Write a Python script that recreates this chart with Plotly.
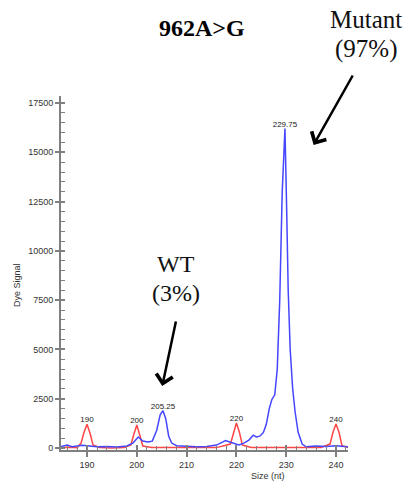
import plotly.graph_objects as go

# Capillary electrophoresis trace: size standard (red) and sample (blue)
red_size = [184.8, 186.5, 188.0, 188.8, 189.4, 190.0, 190.6, 191.2, 192.5, 195.0, 197.5,
            198.8, 199.4, 200.0, 200.6, 201.2, 203.0, 207.0, 212.0, 216.0, 218.8, 219.4,
            220.0, 220.6, 221.2, 223.0, 228.0, 233.0, 237.0, 238.8, 239.4, 240.0, 240.6,
            241.2, 242.4]
red_signal = [20, 40, 10, 250, 800, 1200, 750, 150, 30, 0, 20,
              150, 700, 1170, 650, 100, 20, 10, 30, 20, 200, 800,
              1270, 800, 150, 30, 20, 10, 30, 200, 800, 1220, 800,
              120, 30]

blue_size = [184.8, 186.0, 187.0, 189.0, 190.5, 192.0, 194.0, 196.0, 198.0, 199.2,
             200.3, 201.2, 202.2, 203.1, 204.0, 204.7, 205.25, 205.8, 206.4, 207.0,
             208.0, 210.0, 212.0, 214.0, 216.0, 217.2, 217.8, 218.5, 219.5, 220.5,
             221.5, 222.5, 223.4, 224.0, 224.7, 225.4, 226.0, 226.6, 227.1, 227.7,
             228.2, 228.7, 229.2, 229.75, 230.1, 230.4, 230.8, 231.3, 231.8, 232.4,
             233.2, 234.0, 236.0, 238.0, 240.0, 242.4]
blue_signal = [80, 150, 60, 140, 100, 60, 80, 50, 100, 250,
               560, 350, 300, 350, 900, 1700, 1890, 1500, 600, 250,
               120, 100, 60, 80, 150, 300, 380, 320, 220, 150,
               250, 400, 650, 560, 600, 780, 1200, 2000, 2450, 2700,
               4000, 7500, 13000, 16200, 12000, 8000, 5000, 3000, 1800, 800,
               200, 60, 100, 80, 120, 60]

ladder_labels = ["190", "200", "220", "240"]
ladder_size = [190.0, 200.0, 220.0, 240.0]
ladder_signal = [1200, 1170, 1270, 1220]

called_labels = ["205.25", "229.75"]
called_size = [205.25, 229.75]
called_signal = [1890, 16200]

x_ticks = [190, 200, 210, 220, 230, 240]
y_ticks = [0, 2500, 5000, 7500, 10000, 12500, 15000, 17500]

x_range = [184.77, 242.41]
y_range = [-101, 17855]

axis_grey = "#7f7f7f"
label_font = dict(family="Arial", size=9, color="#333333")

fig = go.Figure()
fig.add_trace(go.Scatter(x=red_size, y=red_signal, mode="lines",
                         line=dict(color="rgb(255,70,70)", width=1.5), hoverinfo="skip"))
fig.add_trace(go.Scatter(x=blue_size, y=blue_signal, mode="lines",
                         line=dict(color="rgb(70,70,255)", width=1.5), hoverinfo="skip"))
fig.add_trace(go.Scatter(x=ladder_size, y=ladder_signal, mode="text", text=ladder_labels,
                         textposition="top center",
                         textfont=dict(family="Arial", size=8, color="#222222")))
fig.add_trace(go.Scatter(x=called_size, y=called_signal, mode="text", text=called_labels,
                         textposition="top center",
                         textfont=dict(family="Arial", size=8, color="#222222")))

fig.update_layout(
    width=414, height=485,
    margin=dict(l=61, r=66, t=96, b=35),
    paper_bgcolor="white", plot_bgcolor="white",
    showlegend=False,
    xaxis=dict(range=x_range, tickvals=x_ticks, ticks="outside", ticklen=5,
               tickcolor=axis_grey, tickwidth=1.5, showline=True, linecolor=axis_grey,
               linewidth=2, showgrid=False, zeroline=False, tickfont=label_font,
               minor=dict(dtick=2, ticks="inside", ticklen=4, tickcolor=axis_grey,
                          tickwidth=1)),
    yaxis=dict(range=y_range, tickvals=y_ticks, ticks="outside", ticklen=4,
               tickcolor=axis_grey, tickwidth=1.5, showline=True, linecolor=axis_grey,
               linewidth=2, showgrid=False, zeroline=False, tickfont=label_font,
               tickformat="d",
               minor=dict(dtick=500, ticks="inside", ticklen=4, tickcolor=axis_grey,
                          tickwidth=1)),
    # overlay axes carry the inner half of the major ticks
    xaxis2=dict(overlaying="x", anchor="y", side="bottom", range=x_range,
                tickvals=x_ticks, ticks="inside", ticklen=5, tickcolor=axis_grey,
                tickwidth=1.5, showticklabels=False, showline=False, showgrid=False,
                zeroline=False),
    yaxis2=dict(overlaying="y", anchor="x", side="left", range=y_range,
                tickvals=y_ticks, ticks="inside", ticklen=4, tickcolor=axis_grey,
                tickwidth=1.5, showticklabels=False, showline=False, showgrid=False,
                zeroline=False),
)
fig.add_trace(go.Scatter(x=[], y=[], xaxis="x2", yaxis="y2", hoverinfo="skip"))

serif = "Liberation Serif, Times New Roman, serif"
annotations = [
    dict(text="<b>962A>G</b>", xref="paper", yref="paper", x=(202 - 61) / 287,
         y=(450 - 28) / 354, showarrow=False, font=dict(family=serif, size=24, color="black"),
         xanchor="center", yanchor="middle"),
    dict(text="Mutant", xref="paper", yref="paper", x=(366 - 61) / 287, y=(450 - 19) / 354,
         showarrow=False, font=dict(family=serif, size=25, color="#111111"),
         xanchor="center", yanchor="middle"),
    dict(text="(97%)", xref="paper", yref="paper", x=(366 - 61) / 287, y=(450 - 49) / 354,
         showarrow=False, font=dict(family=serif, size=25, color="#111111"),
         xanchor="center", yanchor="middle"),
    dict(text="WT", xref="paper", yref="paper", x=(176 - 61) / 287, y=(450 - 264) / 354,
         showarrow=False, font=dict(family=serif, size=24, color="#111111"),
         xanchor="center", yanchor="middle"),
    dict(text="(3%)", xref="paper", yref="paper", x=(176 - 61) / 287, y=(450 - 293) / 354,
         showarrow=False, font=dict(family=serif, size=24, color="#111111"),
         xanchor="center", yanchor="middle"),
    # arrows pointing at the two alleles
    dict(x=235.5, y=15370, xref="x", yref="y", ax=40, ay=-71, text="", showarrow=True,
         arrowhead=4, arrowsize=1.3, arrowwidth=2.5, arrowcolor="black", standoff=0),
    dict(x=205.1, y=3146, xref="x", yref="y", ax=14, ay=-66, text="", showarrow=True,
         arrowhead=4, arrowsize=1.3, arrowwidth=2.5, arrowcolor="black", standoff=0),
    # axis titles
    dict(text="Dye Signal", xref="paper", yref="paper", x=(17 - 61) / 287,
         y=(450 - 285) / 354, textangle=-90, showarrow=False,
         font=dict(family="Arial", size=9, color="#333333"), xanchor="center",
         yanchor="middle"),
    dict(text="Size (nt)", xref="paper", yref="paper", x=(268 - 61) / 287,
         y=(450 - 476) / 354, showarrow=False,
         font=dict(family="Arial", size=9, color="#333333"), xanchor="center",
         yanchor="middle"),
]
fig.update_layout(annotations=annotations)

fig.write_html("out.html")
